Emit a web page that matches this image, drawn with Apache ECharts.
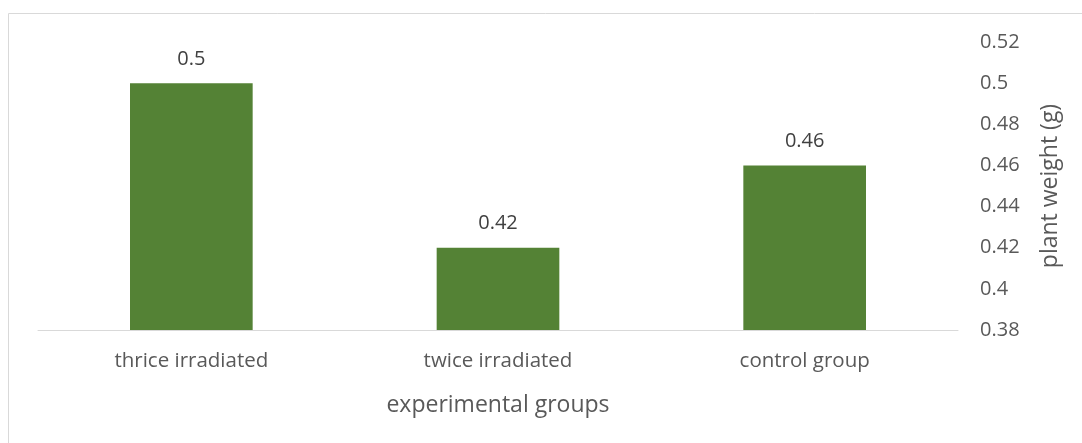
<!DOCTYPE html>
<html>
<head>
<meta charset="utf-8">
<script src="https://cdn.jsdelivr.net/npm/echarts@6/dist/echarts.min.js"></script>
<style>
  html, body { margin: 0; padding: 0; background: #fff; }
  #chart { width: 1082px; height: 443px; }
</style>
</head>
<body>
<div id="chart"></div>
<script>
const categories = ['thrice irradiated', 'twice irradiated', 'control group'];
const weights = [0.5, 0.42, 0.46];
const yMin = 0.38, yMax = 0.52, yStep = 0.02;

const FONT = '"Open Sans", "Liberation Sans", sans-serif';
const TEXT = '#595959';

const chart = echarts.init(document.getElementById('chart'));
chart.setOption({
  animation: false,
  textStyle: { fontFamily: FONT },
  graphic: [{
    type: 'rect',
    shape: { x: 8.5, y: 13.5, width: 1200, height: 600 },
    style: { fill: 'none', stroke: '#d9d9d9', lineWidth: 1 },
    silent: true
  }],
  grid: { left: 38, right: 124, top: 42, bottom: 113 },
  xAxis: {
    type: 'category',
    data: categories,
    axisLine: { lineStyle: { color: '#d9d9d9', width: 1 } },
    axisTick: { show: false },
    axisLabel: { color: TEXT, fontSize: 20.5, margin: 21, fontFamily: FONT },
    name: 'experimental groups',
    nameLocation: 'middle',
    nameGap: 64,
    nameTextStyle: { color: TEXT, fontSize: 23, fontFamily: FONT }
  },
  yAxis: {
    type: 'value',
    position: 'right',
    min: yMin, max: yMax, interval: yStep,
    splitLine: { show: false },
    axisLine: { show: false },
    axisTick: { show: false },
    axisLabel: {
      color: TEXT, fontSize: 20, margin: 22, fontFamily: FONT,
      formatter: v => String(+v.toFixed(2))
    },
    name: 'plant weight (g)',
    nameLocation: 'middle',
    nameRotate: 90,
    nameGap: 81,
    nameTextStyle: { color: TEXT, fontSize: 23, fontFamily: FONT }
  },
  series: [{
    type: 'bar',
    data: weights,
    barWidth: '40%',
    itemStyle: { color: '#548235' },
    label: {
      show: true,
      position: 'top',
      distance: 14,
      color: '#404040',
      fontSize: 20,
      fontFamily: FONT,
      formatter: p => String(p.value)
    }
  }]
});
</script>
</body>
</html>
